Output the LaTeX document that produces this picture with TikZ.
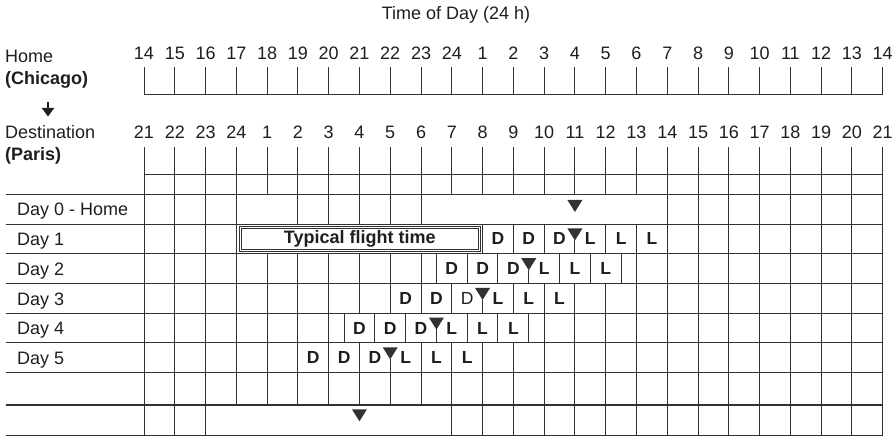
\documentclass[tikz,border=0pt]{standalone}
\usepackage{fontspec}
\setmainfont{Liberation Sans}
\usetikzlibrary{arrows.meta}
\definecolor{gridgray}{RGB}{50,50,50}
\definecolor{inkblack}{RGB}{30,30,30}

\newcommand{\pointer}[2]{\fill[pointer] ([xshift=-7.5pt]#1,#2) -- ([xshift=7.5pt]#1,#2) -- ([yshift=-12pt]#1,#2) -- cycle;}

\begin{document}
\begin{tikzpicture}[
    x=1pt, y=-1pt,
    grid/.style={draw=gridgray,line width=1pt},
    heavy/.style={draw=gridgray,line width=2pt},
    txt/.style={font=\fontsize{18}{21}\selectfont,text=inkblack,anchor=base west,inner sep=0pt},
    boldtxt/.style={txt,font=\fontsize{18}{21}\selectfont\bfseries},
    hour/.style={font=\fontsize{18}{21}\selectfont,text=inkblack,anchor=base,inner sep=0pt},
    meal/.style={font=\fontsize{17.5}{20}\selectfont\bfseries,text=inkblack,anchor=base,inner sep=0pt},
    flight/.style={draw=gridgray,line width=0.9pt,double=white,double distance=1.3pt,
      minimum width=239pt,minimum height=23.6pt,inner sep=0pt,
      font=\fontsize{18}{21}\selectfont\bfseries,text=inkblack},
    pointer/.style={fill=gridgray},
    arrow/.style={-{Triangle[width=12pt,length=8.5pt]},line width=2.4pt,draw=inkblack}
  ]
  \useasboundingbox (0,0) rectangle (895,438);

  \node[txt,anchor=base] (title) at (456,20) {Time of Day (24 h)};

  \node[txt] (home) at (5,62.5) {Home};
  \node[boldtxt] (chicago) at (5,84.5) {(Chicago)};
  \node[txt] (dest) at (5,138.5) {Destination};
  \node[boldtxt] (paris) at (5,160.5) {(Paris)};
  \coordinate (arrtop) at (48,102.5);
  \coordinate (arrbot) at (48,116.5);
  \draw[arrow] (arrtop) -- (arrbot);

  \foreach \k/\day in {0/Day 0 - Home,1/Day 1,2/Day 2,3/Day 3,4/Day 4,5/Day 5}
    \node[txt] (day\k) at (17,216+29.7*\k) {\day};

  \begin{scope}[shift={(144,0)},x=30.78pt]
    % both clocks
    \foreach \i in {0,...,24}{
      \pgfmathtruncatemacro\hh{mod(13+\i,24)+1}
      \pgfmathtruncatemacro\dd{mod(20+\i,24)+1}
      \node[hour] (hometick\i) at (\i,59.3) {\hh};
      \node[hour] (desttick\i) at (\i,139) {\dd};
      \draw[grid] (\i,67.3) -- (\i,95);
      \draw[grid] (\i,146.7) -- (\i,194.5);
    }
    \draw[grid] (0,95) -- (24,95);
    \draw[grid] (0,174.3) -- (24,174.3);

    % cell walls, row by row
    \foreach \rowtop/\rowbot/\cols in {
        194.5/224.2/{0,1,...,3,5,6,...,9,17,18,...,24},
        224.2/253.9/{0,1,...,3,11,12,13,15,16,...,24},
        253.9/283.6/{0,1,...,9,9.5,10.5,11.5,13.5,14.5,15.5,16,17,...,24},
        283.6/313.3/{0,1,...,10,12,13,...,24},
        313.3/343.0/{0,1,...,6,6.5,7.5,8.5,10.5,11.5,12.5,13,14,...,24},
        343.0/372.7/{0,1,...,7,9,10,...,24},
        372.7/405/{0,1,...,24},
        405/435.7/{0,1,2,10,11,...,24}}
      \foreach \c in \cols
        \draw[grid] (\c,\rowtop) -- (\c,\rowbot);
  \end{scope}

  \foreach \y in {194.5,224.2,253.9,283.6,313.3,343.0,372.7}
    \draw[grid] (5.7,\y) -- (882.7,\y);
  \draw[heavy] (5.7,405) -- (882.7,405);
  \draw[grid,line width=1.2pt] (5.7,435.7) -- (882.7,435.7);

  \begin{scope}[shift={(144,0)},x=30.78pt]
    \node[flight] (flight) at (7.01,239) {Typical flight time};

    \foreach \k/\s/\wt in {1/14/{},2/12.5/{},3/11/\mdseries,4/9.5/{},5/8/{}}{
      \pgfmathsetmacro\rowtop{194.5+29.7*\k}
      \foreach \j in {1,2,3}{
        \node[meal] (dark\k\j) at (\s-3.5+\j,\rowtop+20.8) {\ifnum\j=3 \wt\fi D};
        \node[meal] (light\k\j) at (\s-0.5+\j,\rowtop+20.8) {L};
      }
      \pointer{\s}{\rowtop+4.3}
      \draw[grid] (\s,\rowtop+16) -- (\s,\rowtop+29.7);
    }
    \pointer{14}{200}
    \pointer{7}{409.3}
  \end{scope}
\end{tikzpicture}
\end{document}
